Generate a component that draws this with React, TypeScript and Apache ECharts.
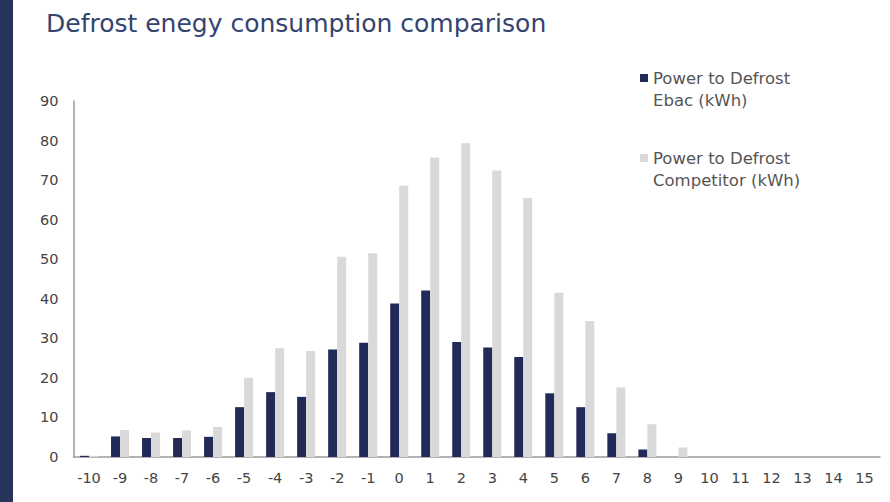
import React, { useEffect, useRef } from "react";
import * as echarts from "echarts";

const categories = ["-10","-9","-8","-7","-6","-5","-4","-3","-2","-1","0","1","2","3","4","5","6","7","8","9","10","11","12","13","14","15"];
const ebac = [0.3,5.2,4.8,4.8,5.1,12.6,16.4,15.2,27.2,28.9,38.8,42.1,29.1,27.7,25.3,16.1,12.6,6.0,1.9,0,0,0,0,0,0,0];
const competitor = [0.3,6.8,6.2,6.7,7.6,20,27.5,26.8,50.6,51.5,68.6,75.7,79.3,72.4,65.5,41.5,34.4,17.6,8.3,2.4,0,0,0,0,0,0];
const seriesNames = ["Power to Defrost Ebac (kWh)", "Power to Defrost Competitor (kWh)"];
const legendLines = [["Power to Defrost", "Ebac (kWh)"], ["Power to Defrost", "Competitor (kWh)"]];
const title = "Defrost enegy consumption comparison";

const FONT = "'DejaVu Sans', 'Noto Sans', sans-serif";
const DARK = "#222a58";
const LIGHT = "#d9d9d9";

export default function App() {
  const ref = useRef<HTMLDivElement>(null);
  useEffect(() => {
    if (!ref.current) return;
    const chart = echarts.init(ref.current, undefined, { renderer: "svg" });
    chart.setOption({
      animation: false,
      backgroundColor: "#ffffff",
      title: {
        text: title,
        left: 41,
        top: 6,
        textStyle: { fontFamily: FONT, fontSize: 25, fontWeight: "normal", color: "#34446e" },
      },
      grid: { left: 73.5, right: 10, top: 101, bottom: 45, containLabel: false },
      xAxis: {
        type: "category",
        data: categories,
        axisLine: { lineStyle: { color: "#9a9a9a", width: 1.5 } },
        axisTick: { show: false },
        axisLabel: { color: "#444", fontFamily: FONT, fontSize: 14.5, margin: 13, interval: 0 },
      },
      yAxis: {
        type: "value",
        min: 0,
        max: 90,
        interval: 10,
        axisLine: { show: true, lineStyle: { color: "#9a9a9a", width: 1.5 } },
        axisTick: { show: false },
        splitLine: { show: false },
        axisLabel: { color: "#444", fontFamily: FONT, fontSize: 14.5, margin: 15 },
      },
      series: [
        { name: seriesNames[0], type: "bar", data: ebac, barWidth: 9, barGap: "0%", itemStyle: { color: DARK } },
        { name: seriesNames[1], type: "bar", data: competitor, barWidth: 9, barGap: "0%", itemStyle: { color: LIGHT } },
      ],
      graphic: [
        { type: "rect", left: 0, top: 0, shape: { width: 13, height: 502 }, style: { fill: "#26345a" } },
        { type: "rect", left: 640, top: 74, shape: { width: 8, height: 8 }, style: { fill: DARK } },
        { type: "text", left: 653, top: 67, style: { text: legendLines[0].join("\n"), font: `16.5px ${FONT}`, fill: "#555", lineHeight: 22 } },
        { type: "rect", left: 640, top: 154, shape: { width: 8, height: 8 }, style: { fill: LIGHT } },
        { type: "text", left: 653, top: 147, style: { text: legendLines[1].join("\n"), font: `16.5px ${FONT}`, fill: "#555", lineHeight: 22 } },
      ],
    });
    return () => chart.dispose();
  }, []);
  return <div ref={ref} style={{ position: "fixed", left: 0, top: 0, width: 890, height: 502 }} />;
}
